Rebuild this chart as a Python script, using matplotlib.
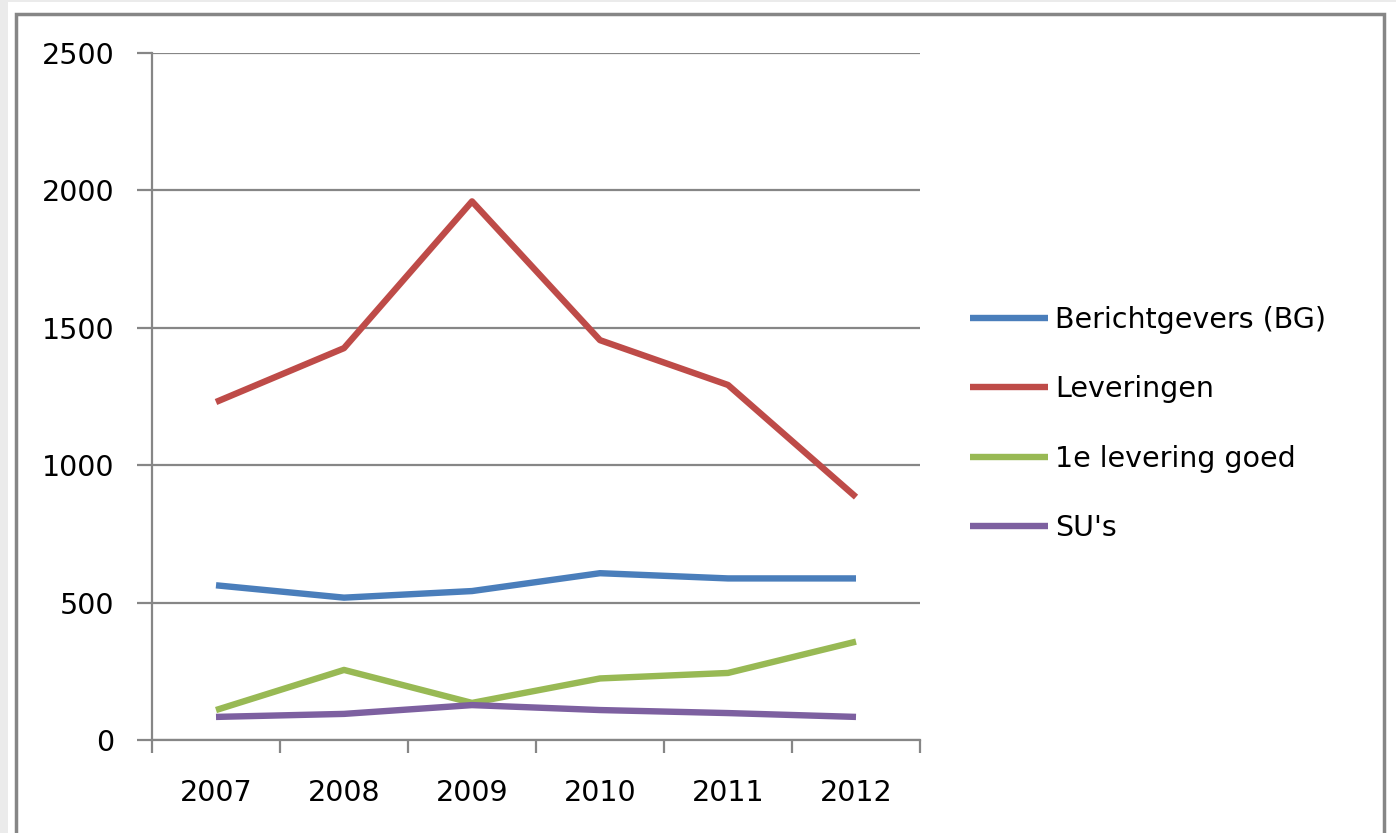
import matplotlib.pyplot as plt
from matplotlib.patches import Rectangle

years = ['2007', '2008', '2009', '2010', '2011', '2012']
berichtgevers = [563, 518, 542, 607, 588, 588]
leveringen = [1230, 1426, 1960, 1455, 1292, 884]
eerste_levering_goed = [109, 255, 135, 224, 244, 358]
sus = [84, 95, 127, 109, 98, 84]

series = [
    ('Berichtgevers (BG)', berichtgevers, '#4a7ebb'),
    ('Leveringen', leveringen, '#be4b48'),
    ('1e levering goed', eerste_levering_goed, '#98b954'),
    ('SU\'s', sus, '#7d60a0'),
]

W, H = 1396, 833
fig = plt.figure(figsize=(W / 100, H / 100), dpi=100)
fig.patch.set_facecolor('white')

# outer chart frame and grey strip at the edges
fig.patches.append(Rectangle((0, 0), 8 / W, 1, transform=fig.transFigure,
                             facecolor='#ebebeb', edgecolor='none'))
fig.patches.append(Rectangle((0, 1 - 2 / H), 1, 2 / H, transform=fig.transFigure,
                             facecolor='#ebebeb', edgecolor='none'))
fig.patches.append(Rectangle((15.5 / W, -0.05), (1384 - 15.5) / W, 1.05 - 13.5 / H,
                             transform=fig.transFigure, facecolor='none',
                             edgecolor='#868686', linewidth=2.5))

ax = fig.add_axes([152 / W, 1 - 740 / H, (920 - 152) / W, (740 - 53) / H])

gray = '#868686'
x = list(range(len(years)))
for label, vals, color in series:
    ax.plot(x, vals, color=color, lw=4.6, label=label, solid_joinstyle='round',
            solid_capstyle='butt')

ax.set_xlim(-0.5, len(years) - 0.5)
ax.set_ylim(0, 2500)
ax.set_yticks(range(0, 2501, 500))
ax.grid(axis='y', color=gray, lw=1.6)
ax.set_axisbelow(True)

ax.set_xticks([i - 0.5 for i in range(len(years) + 1)])
ax.set_xticklabels([])
ax.set_xticks(x, minor=True)
ax.set_xticklabels(years, minor=True)
ax.tick_params(axis='x', which='major', length=9, width=1.6, color=gray)
ax.tick_params(axis='x', which='minor', length=0, pad=28, labelsize=20.5)
ax.tick_params(axis='y', length=11, width=1.6, color=gray, pad=16, labelsize=20.5)

for side in ['top', 'right']:
    ax.spines[side].set_visible(False)
for side in ['left', 'bottom']:
    ax.spines[side].set_color(gray)
    ax.spines[side].set_linewidth(1.6)

ax.legend(loc='center left', bbox_to_anchor=(970 / W, 1 - 424 / H),
          bbox_transform=fig.transFigure, frameon=False, fontsize=20.5,
          handlelength=2.75, handletextpad=0.25, labelspacing=1.46,
          borderpad=0, borderaxespad=0)

fig.savefig('out.png', dpi=100)
